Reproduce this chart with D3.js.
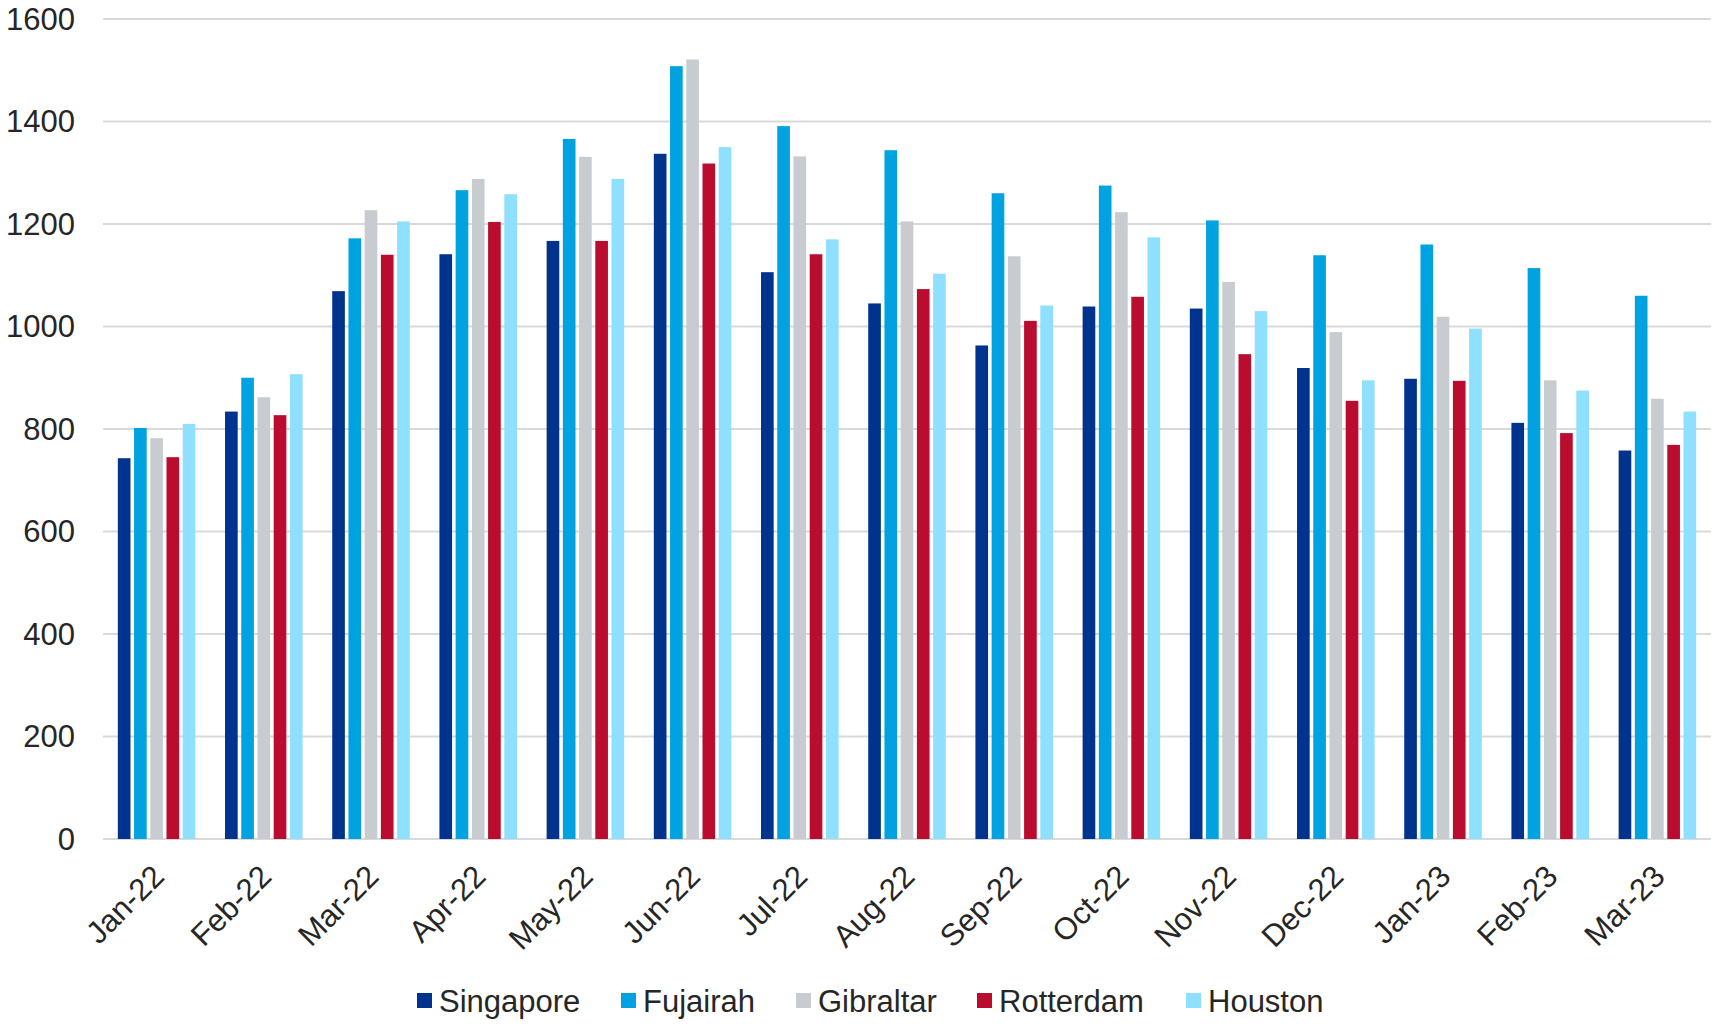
<!DOCTYPE html>
<html>
<head>
<meta charset="utf-8">
<script src="https://cdn.jsdelivr.net/npm/d3@7"></script>
<style>
  html, body { margin: 0; padding: 0; background: #fff; }
  svg { display: block; font-family: "Liberation Sans", Arial, sans-serif; }
</style>
</head>
<body>
<svg id="chart" width="1717" height="1024"></svg>
<script>
// Monthly categories
const months = ["Jan-22","Feb-22","Mar-22","Apr-22","May-22","Jun-22","Jul-22","Aug-22","Sep-22","Oct-22","Nov-22","Dec-22","Jan-23","Feb-23","Mar-23"];

// Port series
const ports = ["Singapore","Fujairah","Gibraltar","Rotterdam","Houston"];
const singapore = [743, 834, 1069, 1141, 1167, 1337, 1106, 1045, 963, 1039, 1035, 919, 898, 812, 758];
const fujairah  = [802, 900, 1172, 1266, 1366, 1508, 1391, 1344, 1260, 1275, 1207, 1139, 1160, 1114, 1060];
const gibraltar = [782, 862, 1227, 1288, 1331, 1521, 1332, 1205, 1137, 1223, 1087, 989, 1019, 895, 859];
const rotterdam = [745, 827, 1140, 1204, 1167, 1318, 1141, 1073, 1011, 1058, 946, 855, 894, 792, 769];
const houston   = [810, 907, 1205, 1258, 1288, 1350, 1170, 1103, 1041, 1174, 1030, 895, 996, 875, 834];
const seriesValues = [singapore, fujairah, gibraltar, rotterdam, houston];
const colors = ["#00338d", "#00a3e0", "#c8ccd0", "#ba0c2f", "#8fdfff"];

// Y ticks
const yTicks = [0, 200, 400, 600, 800, 1000, 1200, 1400, 1600];

const svg = d3.select("#chart");
const plotLeft = 103, plotRight = 1711, plotTop = 19, plotBottom = 839;
const fontSize = 31;
const textColor = "#262626";

const x0 = d3.scaleBand().domain(months).range([plotLeft, plotRight]).paddingInner(0.21).paddingOuter(0.105);
const x1 = d3.scaleBand().domain(ports).range([0, x0.bandwidth()]).padding(0.22);
const y = d3.scaleLinear().domain([0, 1600]).range([plotBottom, plotTop]);

// Gridlines
svg.append("g")
  .selectAll("line")
  .data(yTicks)
  .join("line")
  .attr("x1", plotLeft).attr("x2", plotRight)
  .attr("y1", d => y(d)).attr("y2", d => y(d))
  .attr("stroke", "#d9d9d9")
  .attr("stroke-width", 2);

// Y tick labels
svg.append("g")
  .selectAll("text")
  .data(yTicks)
  .join("text")
  .attr("x", 75)
  .attr("y", d => y(d))
  .attr("dy", "0.35em")
  .attr("text-anchor", "end")
  .attr("font-size", fontSize)
  .attr("fill", textColor)
  .text(d => d);

// Bars
const rows = months.map((m, i) => ({ month: m, vals: ports.map((p, j) => ({ port: p, value: seriesValues[j][i], color: colors[j] })) }));
svg.append("g")
  .selectAll("g")
  .data(rows)
  .join("g")
  .attr("transform", d => `translate(${x0(d.month)},0)`)
  .selectAll("rect")
  .data(d => d.vals)
  .join("rect")
  .attr("x", d => x1(d.port))
  .attr("width", x1.bandwidth())
  .attr("y", d => y(d.value))
  .attr("height", d => y(0) - y(d.value))
  .attr("fill", d => d.color);

// X labels, rotated
svg.append("g")
  .selectAll("text")
  .data(months)
  .join("text")
  .attr("transform", d => `translate(${x0(d) + x0.bandwidth() / 2 - 6},${plotBottom + 24}) rotate(-45)`)
  .attr("text-anchor", "end")
  .attr("dy", "0.7em")
  .attr("font-size", fontSize)
  .attr("fill", textColor)
  .text(d => d);

// Legend
const legendX = [417, 621, 796, 977, 1186];
const legend = svg.append("g")
  .selectAll("g")
  .data(ports)
  .join("g")
  .attr("transform", (d, i) => `translate(${legendX[i]},1001)`);
legend.append("rect")
  .attr("x", 0).attr("y", -8)
  .attr("width", 15).attr("height", 15)
  .attr("fill", (d, i) => colors[i]);
legend.append("text")
  .attr("x", 22)
  .attr("dy", "0.35em")
  .attr("font-size", fontSize)
  .attr("fill", textColor)
  .text(d => d);
</script>
</body>
</html>
